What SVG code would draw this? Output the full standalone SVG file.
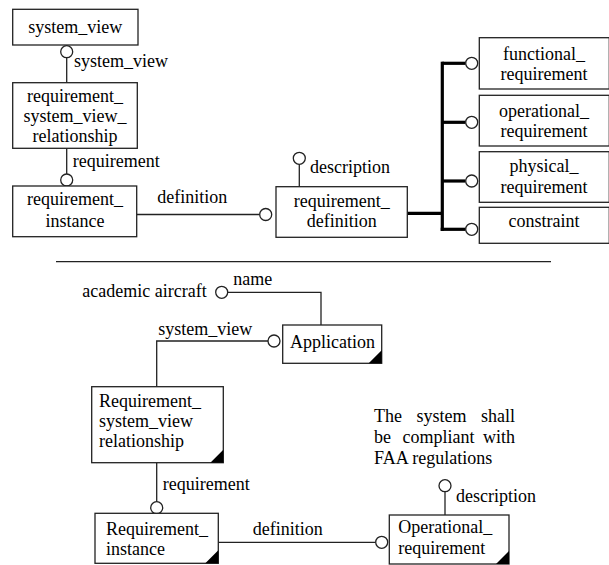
<svg xmlns="http://www.w3.org/2000/svg" width="609" height="565" viewBox="0 0 609 565" font-family="'Liberation Serif', 'DejaVu Serif', serif" font-size="18">
  <style>
    text { font-family: 'Liberation Serif', 'DejaVu Serif', serif; font-size: 18px; fill: #000; }
    .c { text-anchor: middle; }
    .box { fill: #fff; stroke: #222; stroke-width: 1.3; }
    .ln { fill: none; stroke: #222; stroke-width: 1.3; }
    .thick { fill: none; stroke: #000; stroke-width: 3.2; }
    .ring { fill: #fff; stroke: #222; stroke-width: 1.3; }
    .corner { fill: #000; }
  </style>

  <!-- connectors -->
  <g id="connectors">
    <!-- schema part -->
    <line class="ln" x1="66.7" y1="57.7" x2="66.7" y2="82.7"/>
    <circle class="ring" cx="66.7" cy="51.7" r="6"/>
    <text x="74" y="67">system_view</text>

    <line class="ln" x1="66.7" y1="148.3" x2="66.7" y2="174"/>
    <circle class="ring" cx="66.7" cy="180" r="6"/>
    <text x="72.7" y="166.5">requirement</text>

    <line class="ln" x1="136.7" y1="214.5" x2="259.7" y2="214.5"/>
    <circle class="ring" cx="265.7" cy="214.5" r="6"/>
    <text x="157.3" y="203">definition</text>

    <line class="ln" x1="299.3" y1="164.3" x2="299.3" y2="186.7"/>
    <circle class="ring" cx="299.3" cy="158.3" r="6"/>
    <text x="310" y="172.7">description</text>

    <!-- subtype tree -->
    <polyline class="thick" points="407.3,213.3 442.3,213.3"/>
    <line class="thick" x1="442.3" y1="61.7" x2="442.3" y2="230.9"/>
    <line class="thick" x1="442.3" y1="63.3" x2="465.7" y2="63.3"/>
    <line class="thick" x1="442.3" y1="122.3" x2="465.7" y2="122.3"/>
    <line class="thick" x1="442.3" y1="181" x2="465.7" y2="181"/>
    <line class="thick" x1="440.7" y1="229.3" x2="465.7" y2="229.3"/>
    <circle class="ring" cx="471.7" cy="63.3" r="6"/>
    <circle class="ring" cx="471.7" cy="122.3" r="6"/>
    <circle class="ring" cx="471.7" cy="181" r="6"/>
    <circle class="ring" cx="471.7" cy="229.3" r="6"/>

    <!-- separator -->
    <line class="ln" x1="56" y1="261.7" x2="551" y2="261.7"/>

    <!-- instance part -->
    <polyline class="ln" points="227.7,292.3 321,292.3 321,325"/>
    <circle class="ring" cx="221.7" cy="292.3" r="6"/>
    <text x="233.3" y="285">name</text>

    <polyline class="ln" points="268,341 156.7,341 156.7,386.7"/>
    <circle class="ring" cx="274" cy="341" r="6"/>
    <text x="158.3" y="335">system_view</text>

    <line class="ln" x1="156.7" y1="462.7" x2="156.7" y2="501.7"/>
    <circle class="ring" cx="156.7" cy="507.7" r="6"/>
    <text x="162.7" y="490">requirement</text>

    <line class="ln" x1="218.3" y1="542.3" x2="375.7" y2="542.3"/>
    <circle class="ring" cx="381.7" cy="542.3" r="6"/>
    <text x="252.7" y="535">definition</text>

    <line class="ln" x1="445" y1="491.7" x2="445" y2="515"/>
    <circle class="ring" cx="445" cy="485.7" r="6"/>
    <text x="456" y="501.7">description</text>
  </g>

  <!-- schema entities -->
  <g id="system_view">
    <rect class="box" x="12.7" y="9.3" width="125.3" height="35.7"/>
    <text class="c" x="75.3" y="33">system_view</text>
  </g>
  <g id="requirement_system_view_relationship">
    <rect class="box" x="12.7" y="82.7" width="124.6" height="65.6"/>
    <text class="c" x="75" y="101.5">requirement_</text>
    <text class="c" x="75" y="121.5">system_view_</text>
    <text class="c" x="75" y="141.5">relationship</text>
  </g>
  <g id="requirement_instance">
    <rect class="box" x="12.7" y="186" width="124" height="50.7"/>
    <text class="c" x="75" y="205">requirement_</text>
    <text class="c" x="75" y="226.5">instance</text>
  </g>
  <g id="requirement_definition">
    <rect class="box" x="276" y="186.7" width="131.3" height="50.6"/>
    <text class="c" x="341.7" y="206.5">requirement_</text>
    <text class="c" x="341.7" y="227">definition</text>
  </g>
  <g id="functional_requirement">
    <rect class="box" x="479.3" y="37.7" width="130" height="51.3"/>
    <text class="c" x="544" y="59.5">functional_</text>
    <text class="c" x="544" y="80">requirement</text>
  </g>
  <g id="operational_requirement">
    <rect class="box" x="479.3" y="95.3" width="130" height="50.7"/>
    <text class="c" x="544" y="116.5">operational_</text>
    <text class="c" x="544" y="137">requirement</text>
  </g>
  <g id="physical_requirement">
    <rect class="box" x="479.3" y="151.7" width="130" height="50.6"/>
    <text class="c" x="544" y="172">physical_</text>
    <text class="c" x="544" y="193">requirement</text>
  </g>
  <g id="constraint">
    <rect class="box" x="479.3" y="207.3" width="130" height="36"/>
    <text class="c" x="544" y="227">constraint</text>
  </g>

  <!-- instance objects -->
  <g id="name_value">
    <text x="206.7" y="296.7" text-anchor="end">academic aircraft</text>
  </g>
  <g id="application">
    <rect class="box" x="282.7" y="325" width="99" height="38.3"/>
    <polygon class="corner" points="381.7,350.3 381.7,363.3 368.7,363.3"/>
    <text x="290" y="348.3">Application</text>
  </g>
  <g id="requirement_system_view_relationship_instance">
    <rect class="box" x="91.7" y="386.7" width="131.6" height="76"/>
    <polygon class="corner" points="223.3,449.7 223.3,462.7 210.3,462.7"/>
    <text x="99" y="406.7">Requirement_</text>
    <text x="99" y="426.7">system_view</text>
    <text x="99" y="446.7">relationship</text>
  </g>
  <g id="requirement_instance_object">
    <rect class="box" x="95" y="513.3" width="123.3" height="50"/>
    <polygon class="corner" points="218.3,550.3 218.3,563.3 205.3,563.3"/>
    <text x="106" y="535">Requirement_</text>
    <text x="106" y="555">instance</text>
  </g>
  <g id="operational_requirement_object">
    <rect class="box" x="389.3" y="515" width="119.7" height="49"/>
    <polygon class="corner" points="509,551 509,564 496,564"/>
    <text x="398.3" y="533.3">Operational_</text>
    <text x="398.3" y="554.3">requirement</text>
  </g>
  <g id="description_value">
    <text y="422.3"><tspan x="374">The</tspan><tspan x="416.5">system</tspan><tspan x="481">shall</tspan></text>
    <text y="443.3"><tspan x="374">be</tspan><tspan x="402.5">compliant</tspan><tspan x="483">with</tspan></text>
    <text x="374" y="464">FAA regulations</text>
  </g>
</svg>
